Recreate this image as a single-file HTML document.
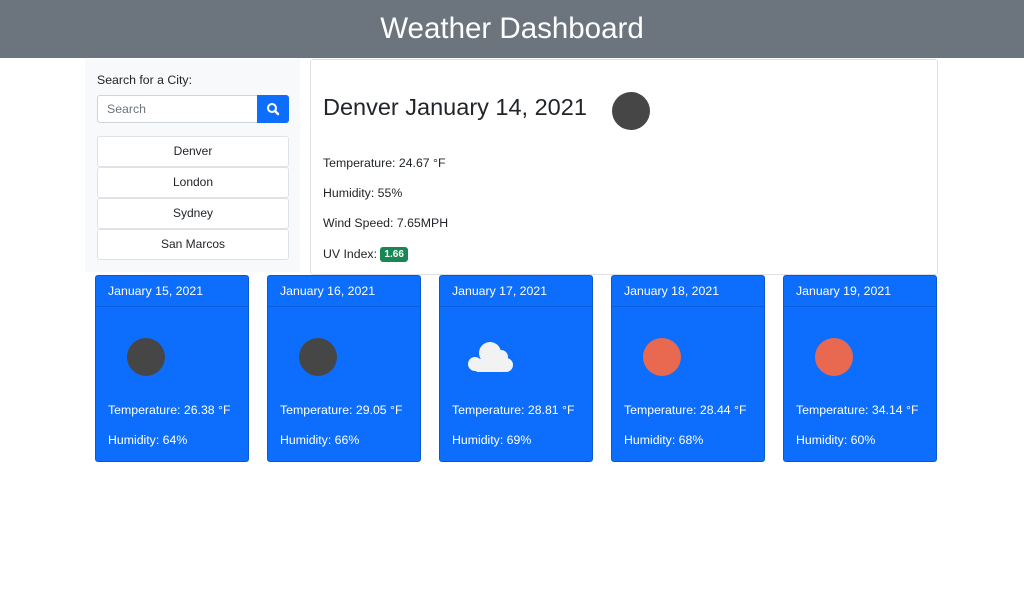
<!DOCTYPE html>
<html><head><meta charset="utf-8"><style>
*{box-sizing:border-box;margin:0;padding:0}
body{width:1024px;height:594px;background:#fff;font-family:"Liberation Sans",sans-serif;color:#212529;position:relative;overflow:hidden}
.abs{position:absolute}
#hdr{left:0;top:0;width:1024px;height:58px;background:#6c757d;color:#fff;font-size:29.5px;text-align:center;line-height:58px}
#side{left:85px;top:59px;width:215px;height:213px;background:#f8f9fa}
.city{position:absolute;left:12px;width:192px;height:31px;background:#fff;border:1px solid #dee2e6;border-radius:3px;text-align:center;line-height:29px;font-size:12px}
#main{left:310px;top:59px;width:628px;height:216px;border:1px solid #dee2e6;border-radius:3px;background:#fff}
.ml{position:absolute;left:12px;font-size:12.3px}
.fc{position:absolute;top:275px;width:154px;height:187px;background:#0d6efd;border:1px solid #0a58ca;border-radius:3px;color:#fff;font-size:12.3px}
.fh{height:31px;border-bottom:1px solid #0b5ed7;padding-left:12px;line-height:31px}
.ic{position:absolute;left:31px;top:62px;width:38px;height:38px;border-radius:50%}
.ft{position:absolute;left:12px}
</style></head><body>
<div id="hdr" class="abs">Weather Dashboard</div>
<div id="side" class="abs">
 <div class="abs" style="left:12px;top:14px;font-size:12.3px">Search for a City:</div>
 <div class="abs" style="left:12px;top:36px;width:161px;height:28px;background:#fff;border:1px solid #ced4da;border-radius:3px 0 0 3px;font-size:12.3px;color:#6c757d;padding-left:9px;line-height:26px">Search</div>
 <div class="abs" style="left:172px;top:36px;width:32px;height:28px;background:#0d6efd;border-radius:0 3px 3px 0">
  <svg width="32" height="28" viewBox="0 0 32 28"><circle cx="15" cy="13" r="4" fill="none" stroke="#fff" stroke-width="2"/><line x1="18" y1="16" x2="21" y2="19" stroke="#fff" stroke-width="2.5" stroke-linecap="round"/></svg>
 </div>
 <div class="city" style="top:77px">Denver</div>
 <div class="city" style="top:108px">London</div>
 <div class="city" style="top:139px">Sydney</div>
 <div class="city" style="top:170px">San Marcos</div>
</div>
<div id="main" class="abs">
 <div class="abs" style="left:12px;top:34px;font-size:23.5px">Denver January 14, 2021</div>
 <div class="abs" style="left:301px;top:32px;width:38px;height:38px;border-radius:50%;background:#464646"></div>
 <div class="ml" style="top:96px">Temperature: 24.67 °F</div>
 <div class="ml" style="top:126px">Humidity: 55%</div>
 <div class="ml" style="top:156px">Wind Speed: 7.65MPH</div>
 <div class="ml" style="top:187px">UV Index: <span style="background:#198754;color:#fff;font-weight:bold;font-size:10px;padding:2px 4px;border-radius:3px;position:relative;top:-1px">1.66</span></div>
</div>

<div class="fc" style="left:95px"><div class="fh">January 15, 2021</div><div class="ic" style="background:#464646"></div><div class="ft" style="top:127px">Temperature: 26.38 °F</div><div class="ft" style="top:157px">Humidity: 64%</div></div>
<div class="fc" style="left:267px"><div class="fh">January 16, 2021</div><div class="ic" style="background:#464646"></div><div class="ft" style="top:127px">Temperature: 29.05 °F</div><div class="ft" style="top:157px">Humidity: 66%</div></div>
<div class="fc" style="left:439px"><div class="fh">January 17, 2021</div>
 <svg class="abs" style="left:26px;top:64px" width="50" height="34" viewBox="0 0 50 34"><g fill="#f2f2f2"><circle cx="24" cy="13" r="11"/><circle cx="35" cy="17" r="7"/><circle cx="9" cy="24" r="7"/><circle cx="40" cy="25" r="7"/><rect x="9" y="19" width="31" height="13" rx="3"/></g></svg>
 <div class="ft" style="top:127px">Temperature: 28.81 °F</div><div class="ft" style="top:157px">Humidity: 69%</div></div>
<div class="fc" style="left:611px"><div class="fh">January 18, 2021</div><div class="ic" style="background:#e8694f"></div><div class="ft" style="top:127px">Temperature: 28.44 °F</div><div class="ft" style="top:157px">Humidity: 68%</div></div>
<div class="fc" style="left:783px"><div class="fh">January 19, 2021</div><div class="ic" style="background:#e8694f"></div><div class="ft" style="top:127px">Temperature: 34.14 °F</div><div class="ft" style="top:157px">Humidity: 60%</div></div>
</body></html>
